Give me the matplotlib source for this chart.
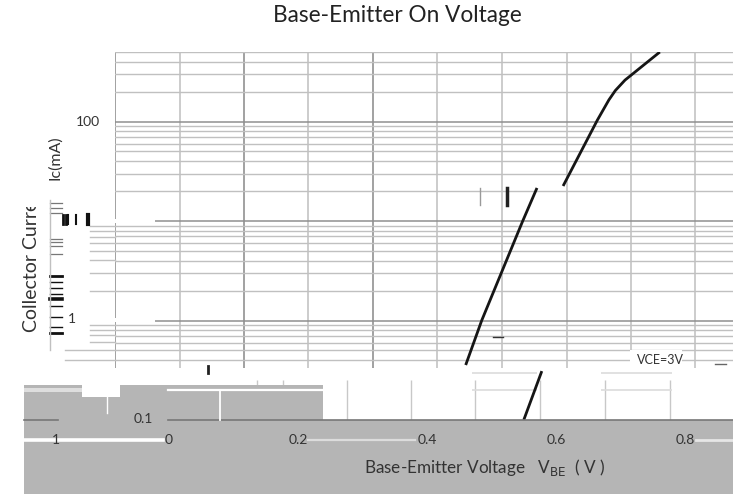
import matplotlib
matplotlib.use("Agg")
import matplotlib.pyplot as plt
from matplotlib.patches import Rectangle

plt.rcParams['font.family'] = ['Lato', 'DejaVu Sans']
W, H = 733, 494
# ---------- data ----------
x_labels = ['1', '0', '0.2', '0.4', '0.6', '0.8']
x_label_vals = [-0.175, 0.0, 0.2, 0.4, 0.6, 0.8]
grid_v_major = [-0.084, 0.117, 0.316]
grid_v_minor = [0.017, 0.216, 0.416, 0.516, 0.617, 0.716, 0.815]
grid_v_low = [0.136, 0.176, 0.276, 0.375, 0.474, 0.575, 0.676, 0.776]
decades = [1, 10, 100]
minor_mult = [2, 3, 4, 5, 6, 7, 8, 9]
# VBE (V) / IC (mA) as the three visible curve pieces
seg_top_v = [0.761, 0.707, 0.692, 0.682, 0.664, 0.611]
seg_top_i = [500, 261, 205, 165, 103, 22.5]
seg_mid_v = [0.5705, 0.5484, 0.4848, 0.460]
seg_mid_i = [21.5, 10, 1.0, 0.357]
seg_low_v = [0.578, 0.550]
seg_low_i = [0.31, 0.1]

fig = plt.figure(figsize=(W/100, H/100), dpi=100, facecolor='white')
L, R, T, B = 115, 733, 52, 420
ax = fig.add_axes([L/W, 1-B/H, (R-L)/W, (B-T)/H], zorder=1)
ax.set_yscale('log')
ax.set_xlim((L-169)/645, (R-169)/645)
ax.set_ylim(0.1, 500)
for s in ax.spines.values():
    s.set_visible(False)
ax.tick_params(which='both', length=0, labelleft=False, labelbottom=False)
ax.minorticks_off()

lo = 0.335  # lower end of the upper grid block
for v in grid_v_major:
    ax.vlines(v, lo, 500, color='#9a9a9a', lw=1.3)
for v in grid_v_minor:
    ax.vlines(v, lo, 500, color='#c4c4c4', lw=1.2)
for v in grid_v_low:
    ax.vlines(v, 0.1, 0.25, color='#c8c8c8', lw=1.0)
for d in decades:
    ax.axhline(d, color='#8f8f8f', lw=1.1)
    for m in minor_mult:
        if d*m <= 500:
            ax.axhline(d*m, color='#c0c0c0', lw=1.0)
for m in [4, 5, 6, 7, 8, 9]:
    ax.axhline(0.1*m, color='#c0c0c0', lw=1.0)
ax.hlines([0.3, 0.2], 0.47, 0.57, color='#dcdcdc', lw=1.2)
ax.hlines([0.3, 0.2], 0.67, 0.78, color='#dcdcdc', lw=1.2)

for xs, ys in [(seg_top_v, seg_top_i), (seg_mid_v, seg_mid_i), (seg_low_v, seg_low_i)]:
    ax.plot(xs, ys, color='#151515', lw=2.0, solid_capstyle='butt')

def rect(x0, y0, x1, y1, color, z=2):
    fig.add_artist(Rectangle((x0/W, 1-y1/H), (x1-x0)/W, (y1-y0)/H, transform=fig.transFigure,
                             fc=color, ec='none', zorder=z))

def hl(x0, x1, y, color, lw=1.2, z=4):
    fig.add_artist(plt.Line2D([x0/W, x1/W], [1-y/H, 1-y/H], color=color, lw=lw, zorder=z))

def vl(x, y0, y1, color, lw=1.2, z=4):
    fig.add_artist(plt.Line2D([x/W, x/W], [1-y0/H, 1-y1/H], color=color, lw=lw, zorder=z))

GREY = '#b5b5b5'
# damaged areas of the scan
rect(115, 219, 155, 223, 'white')
rect(115, 318, 155, 322, 'white')
rect(630, 350, 682, 371, 'white')
rect(24, 420, 733, 494, GREY)
rect(24, 385, 323, 420, GREY)
rect(58, 412, 168, 421, GREY, z=3)
rect(82, 385, 120, 397, 'white', z=3)
rect(24, 388, 82, 392, '#dedede', z=3)
hl(24, 58, 420, '#777777')
hl(168, 733, 420, '#777777')
hl(24, 163, 440, 'white', lw=2.6)
hl(308, 415, 440, '#dcdcdc', lw=1.6)
hl(696, 733, 440, '#e6e6e6', lw=2.0)
hl(168, 323, 390, 'white', lw=1.6)
vl(220, 390, 420, 'white', lw=1.3)
vl(107, 397, 413, 'white', lw=1.0)
# left-hand fragments
for y in [226, 231, 237, 243, 251, 260, 273, 291, 325, 330, 335, 342]:
    hl(90, 115, y, '#c0c0c0', lw=1.0)
for y in [350, 360]:
    hl(65, 115, y, '#c0c0c0', lw=1.0)
for y in [203, 208, 213, 239, 242, 246, 254]:
    hl(50, 62, y, '#777777', lw=0.9)
for y, lw in [(276, 2.0), (282, 1), (288, 1), (294, 1), (299, 2.6), (306, 1), (317, 1), (327, 1), (333, 2)]:
    hl(50, 62, y, '#111111', lw=lw)
vl(50, 200, 350, '#c0c0c0', lw=1)
for x, w in [(63, 2), (66, 2), (68, 1.5), (76, 1.5), (88, 3)]:
    vl(x, 215, 224, '#111111', lw=w)
# small marks
vl(208, 366, 373, '#222222', lw=2)
vl(507, 188, 205, '#222222', lw=2.5)
vl(480, 188, 205, '#999999', lw=1)
hl(493, 503, 337, '#333333', lw=1)
hl(715, 726, 364, '#666666', lw=1)

# text
tk = dict(color='#333333', zorder=5, ha='center', va='center', fontsize=10)
fig.text(397/W, 1-15/H, 'Base-Emitter On Voltage', color='#222222', fontsize=16.3,
         ha='center', va='center', zorder=5)
fig.text(88/W, 1-122/H, '100', **tk)
fig.text(72/W, 1-319/H, '1', **tk)
fig.text(143/W, 1-419/H, '0.1', **tk)
for lab, val in zip(x_labels, x_label_vals):
    fig.text((169+645*val)/W, 1-440/H, lab, **tk)
fig.text(485/W, 1-468/H, 'Base-Emitter Voltage   V$_{\\mathrm{BE}}$  ( V )', color='#333333',
         fontsize=12.3, ha='center', va='center', zorder=5)
fig.text(660/W, 1-360/H, 'VCE=3V', color='#333333', fontsize=9, ha='center', va='center', zorder=5)
fig.text(32/W, 1-332/H, 'Collector Current', color='#333333', fontsize=14, rotation=90,
         ha='center', va='bottom', zorder=3)
rect(20, 130, 45, 207, 'white', z=4)
fig.text(55/W, 1-158/H, 'Ic(mA)', color='#333333', fontsize=11.5, rotation=90,
         ha='center', va='center', zorder=5)

fig.savefig('out.png', dpi=100)
